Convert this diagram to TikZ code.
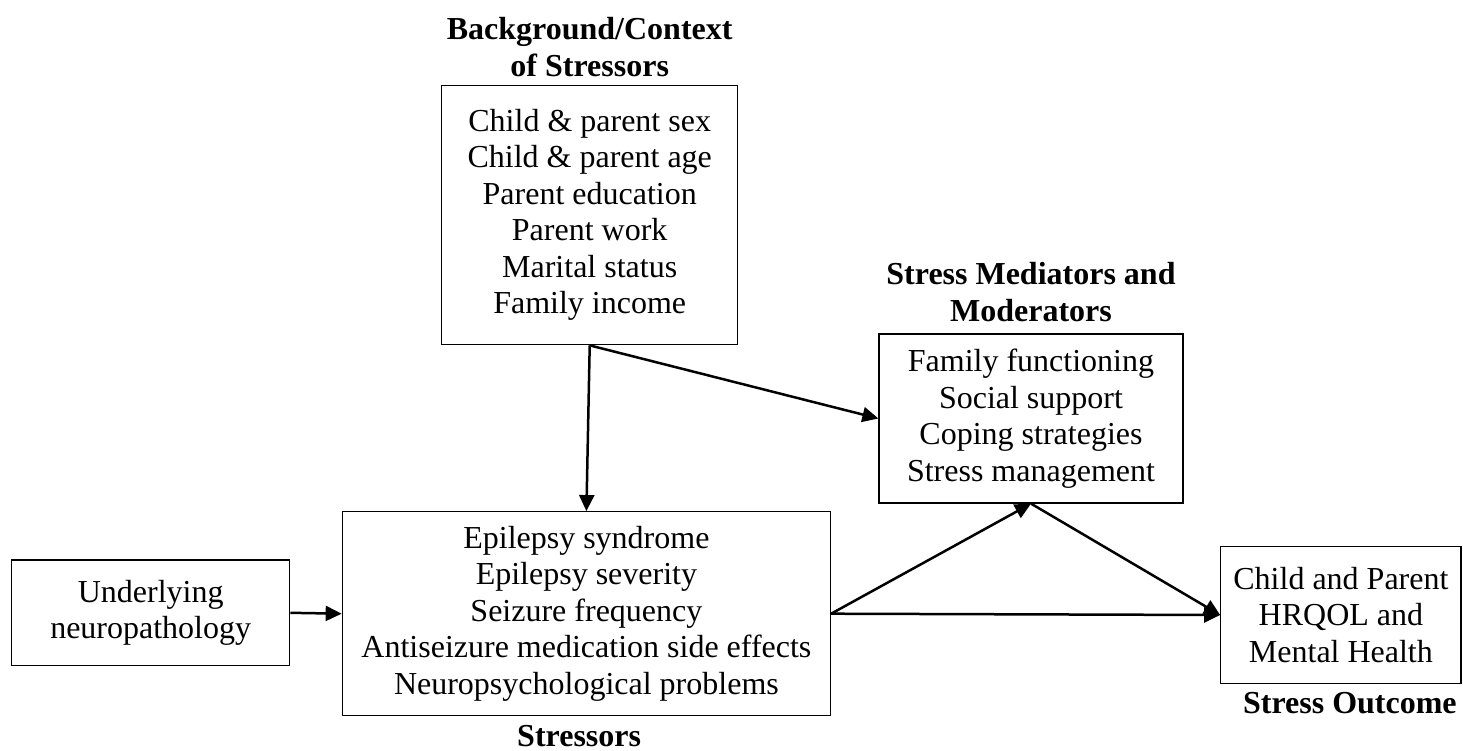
\documentclass[tikz,border=0pt]{standalone}
\usepackage{fontspec}
\setmainfont{Liberation Serif}
\usetikzlibrary{arrows.meta,positioning}
\tikzset{
  factor/.style={
    draw=black, line width=0.5pt, align=center, inner sep=0pt,
    font=\fontsize{12.8}{14.6}\selectfont
  },
  heading/.style={
    align=center, inner sep=0pt, font=\fontsize{12.8}{14.6}\selectfont\bfseries
  },
  link/.style={-{Triangle[length=6.4pt,width=6pt]}, line width=1pt}
}

\begin{document}
\begin{tikzpicture}[x=0.4pt,y=-0.4pt]
  \useasboundingbox (0,0) rectangle (1463,751);
  % boxes
  \node[factor, minimum width=118.4pt, minimum height=103.8pt] (context) at (589.7,215)
    {Child \& parent sex\\Child \& parent age\\Parent education\\Parent work\\Marital status\\Family income};
  \node[factor, minimum width=121.6pt, minimum height=67.6pt] (mediators) at (1031,418.5)
    {Family functioning\\Social support\\Coping strategies\\Stress management};
  \node[factor, minimum width=111.2pt, minimum height=42.3pt] (neuro) at (150.7,612.8)
    {Underlying\\neuropathology};
  \node[factor, minimum width=195.3pt, minimum height=81.6pt] (stressors) at (586.4,613.7)
    {Epilepsy syndrome\\Epilepsy severity\\Seizure frequency\\Antiseizure medication side effects\\Neuropsychological problems};
  \node[factor, minimum width=96.1pt, minimum height=54.6pt] (outcome) at (1340.9,615)
    {Child and Parent\\HRQOL and\\Mental Health};
  % headings
  \node[heading, above=3pt of context] (contexttitle) {Background/Context\\of Stressors};
  \node[heading, above=4.5pt of mediators] (mediatorstitle) {Stress Mediators and\\Moderators};
  \node[heading, below=3.2pt of stressors, xshift=-2.9pt] (stressorstitle) {Stressors};
  \node[heading, below=3.2pt of outcome, xshift=3.6pt] (outcometitle) {Stress Outcome};
  % arrows
  \draw[link] (context.south) -- (stressors.north);
  \draw[link] (context.south) -- (mediators.west);
  \draw[link] (neuro.east) -- (stressors.west);
  \draw[link] (stressors.east) -- (mediators.south);
  \draw[link] (mediators.south) -- (outcome.west);
  \draw[link] (stressors.east) -- (outcome.west);
\end{tikzpicture}
\end{document}
